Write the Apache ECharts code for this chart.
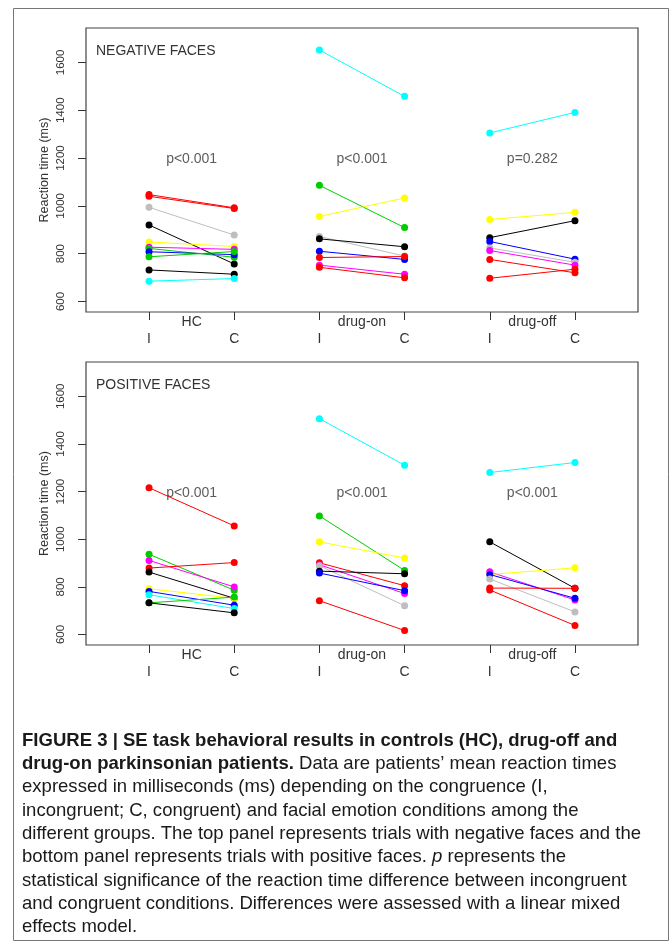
<!DOCTYPE html>
<html>
<head>
<meta charset="utf-8">
<script src="https://cdn.jsdelivr.net/npm/echarts@6/dist/echarts.min.js"></script>
<style>
  html, body { margin: 0; padding: 0; background: #fff; }
  #chart { width: 670px; height: 947px; }
</style>
</head>
<body>
<div id="chart"></div>
<script>
// groups on the x axis, each with an incongruent (I) and congruent (C) point
var groups = ['HC', 'drug-on', 'drug-off'];
var conditions = ['I', 'C'];
var yTicks = [600, 800, 1000, 1200, 1400, 1600];
var pNeg = ['p<0.001', 'p<0.001', 'p=0.282'];
var pPos = ['p<0.001', 'p<0.001', 'p<0.001'];

// NEGATIVE FACES : [I, C] reaction time per subject
var negHC = [[1047, 992], [1040, 989], [994, 878], [920, 757], [849, 830], [827, 818],
             [822, 785], [808, 796], [787, 809], [732, 714], [685, 696]];
var negHCCol = ['red', 'red', 'gray', 'black', 'yellow', 'magenta', 'green', 'blue', 'green', 'black', 'cyan'];
var negOn = [[1652, 1458], [1086, 909], [956, 1033], [872, 790], [862, 829], [810, 776],
             [784, 788], [752, 714], [743, 699]];
var negOnCol = ['cyan', 'green', 'yellow', 'gray', 'black', 'blue', 'red', 'magenta', 'red'];
var negOff = [[1305, 1391], [943, 973], [867, 938], [851, 777], [824, 764], [813, 752],
              [776, 720], [697, 735]];
var negOffCol = ['cyan', 'yellow', 'black', 'blue', 'gray', 'magenta', 'red', 'red'];

// POSITIVE FACES
var posHC = [[1216, 1056], [937, 786], [911, 800], [879, 902], [862, 752], [792, 752],
             [781, 723], [767, 709], [733, 757], [733, 691]];
var posHCCol = ['red', 'green', 'magenta', 'red', 'black', 'yellow', 'blue', 'cyan', 'green', 'black'];
var posOn = [[1506, 1311], [1098, 869], [989, 921], [901, 805], [893, 772], [889, 721],
             [866, 855], [858, 784], [742, 617]];
var posOnCol = ['cyan', 'green', 'yellow', 'red', 'magenta', 'gray', 'black', 'blue', 'red'];
var posOff = [[1280, 1322], [989, 794], [863, 745], [852, 880], [852, 752], [833, 695],
              [795, 794], [787, 638]];
var posOffCol = ['cyan', 'black', 'magenta', 'yellow', 'blue', 'gray', 'red', 'red'];

// R default palette
var pal = {
  black: '#000000', red: '#FF0000', green: '#00CD00', blue: '#0000FF',
  cyan: '#00FFFF', magenta: '#FF00FF', yellow: '#FFFF00', gray: '#BEBEBE'
};

var FONT = "'Liberation Sans', Arial, sans-serif";
var CAP_FONT = "'Liberation Sans Narrow', 'Arial Narrow', 'Liberation Sans', sans-serif";
var TXT = '#333';

var xPos = [];
groups.forEach(function (g, i) { xPos.push(i * 2 + 1, i * 2 + 2); });
var xMid = groups.map(function (g, i) { return i * 2 + 1.5; });

function xAxes(gi) {
  return [{
    type: 'value', gridIndex: gi, min: 0.26, max: 6.74, position: 'bottom',
    axisLine: { show: false }, splitLine: { show: false },
    axisTick: { show: true, customValues: xPos, length: 8, lineStyle: { color: TXT } },
    axisLabel: {
      customValues: xPos, margin: 20, fontSize: 14, color: TXT, fontFamily: FONT,
      formatter: function (v) { return conditions[(Math.round(v) - 1) % 2]; }
    }
  }, {
    type: 'value', gridIndex: gi, min: 0.26, max: 6.74, position: 'bottom',
    axisLine: { show: false }, splitLine: { show: false }, axisTick: { show: false },
    axisLabel: {
      customValues: xMid, margin: 3, fontSize: 14, color: TXT, fontFamily: FONT,
      formatter: function (v) { return groups[Math.round((v - 1.5) / 2)]; }
    }
  }];
}

function yAxis(gi) {
  return {
    type: 'value', gridIndex: gi, min: 556, max: 1744,
    axisLine: { show: false }, splitLine: { show: false },
    axisTick: { show: true, customValues: yTicks, length: 8, lineStyle: { color: TXT } },
    axisLabel: {
      customValues: yTicks, rotate: 90, margin: 19, fontSize: 11.5, color: TXT, fontFamily: FONT,
      formatter: function (v) { return String(v); }
    },
    name: 'Reaction time (ms)', nameLocation: 'middle', nameRotate: 90, nameGap: 35,
    nameMoveOverlap: false,
    nameTextStyle: { fontSize: 12.5, color: TXT, fontFamily: FONT }
  };
}

function panelSeries(pi, sets, pLabels) {
  var out = [];
  sets.forEach(function (set, gi) {
    set[0].forEach(function (pair, si) {
      var c = pal[set[1][si]];
      out.push({
        type: 'line', xAxisIndex: pi * 2, yAxisIndex: pi,
        data: [[xPos[gi * 2], pair[0]], [xPos[gi * 2 + 1], pair[1]]],
        symbol: 'circle', symbolSize: 7,
        lineStyle: { width: 1, color: c }, itemStyle: { color: c },
        emphasis: { disabled: true }, silent: true
      });
    });
  });
  out.push({
    type: 'scatter', xAxisIndex: pi * 2, yAxisIndex: pi,
    data: xMid.map(function (x) { return [x, 1195]; }),
    symbolSize: 1, itemStyle: { color: 'rgba(0,0,0,0)' }, silent: true,
    label: {
      show: true, position: 'inside', fontSize: 14, color: TXT, fontFamily: FONT,
      formatter: function (p) { return pLabels[p.dataIndex]; }
    }
  });
  return out;
}

// figure caption
var capLines = [
  [['b', 'FIGURE 3 | SE task behavioral results in controls (HC), drug-off and']],
  [['b', 'drug-on parkinsonian patients.'], ['r', ' Data are patients\u2019 mean reaction times']],
  [['r', 'expressed in milliseconds (ms) depending on the congruence (I,']],
  [['r', 'incongruent; C, congruent) and facial emotion conditions among the']],
  [['r', 'different groups. The top panel represents trials with negative faces and the']],
  [['r', 'bottom panel represents trials with positive faces. '], ['i', 'p'], ['r', ' represents the']],
  [['r', 'statistical significance of the reaction time difference between incongruent']],
  [['r', 'and congruent conditions. Differences were assessed with a linear mixed']],
  [['r', 'effects model.']]
];
var CAP_SIZE = 19;
var capStyles = {
  b: { fontWeight: 'bold', fontStyle: 'normal' },
  r: { fontWeight: 'normal', fontStyle: 'normal' },
  i: { fontWeight: 'normal', fontStyle: 'italic' }
};
var ctx = document.createElement('canvas').getContext('2d');
var maxW = 0;
capLines.forEach(function (line) {
  var w = 0;
  line.forEach(function (seg) {
    var s = capStyles[seg[0]];
    ctx.font = s.fontStyle + ' ' + s.fontWeight + ' ' + CAP_SIZE + 'px ' + CAP_FONT;
    w += ctx.measureText(seg[1]).width;
  });
  maxW = Math.max(maxW, w);
});
var capScale = 619 / maxW;
var rich = {};
Object.keys(capStyles).forEach(function (k) {
  rich[k] = {
    fontWeight: capStyles[k].fontWeight, fontStyle: capStyles[k].fontStyle,
    fontSize: CAP_SIZE, fontFamily: CAP_FONT, lineHeight: 23.3, fill: '#1a1a1a'
  };
});
var capText = capLines.map(function (line) {
  return line.map(function (seg) { return '{' + seg[0] + '|' + seg[1] + '}'; }).join('');
}).join('\n');

var chart = echarts.init(document.getElementById('chart'), null, { renderer: 'canvas' });
var option = {
  animation: false,
  backgroundColor: '#fff',
  title: [
    { text: 'NEGATIVE FACES', left: 96, top: 44, padding: 0,
      textStyle: { fontSize: 14, fontWeight: 'normal', color: TXT, fontFamily: FONT } },
    { text: 'POSITIVE FACES', left: 96, top: 378, padding: 0,
      textStyle: { fontSize: 14, fontWeight: 'normal', color: TXT, fontFamily: FONT } }
  ],
  grid: [
    { left: 86, top: 28, width: 552, height: 284, show: true, borderColor: '#444', borderWidth: 1.2 },
    { left: 86, top: 362, width: 552, height: 283, show: true, borderColor: '#444', borderWidth: 1.2 }
  ],
  xAxis: xAxes(0).concat(xAxes(1)),
  yAxis: [yAxis(0), yAxis(1)],
  series: panelSeries(0, [[negHC, negHCCol], [negOn, negOnCol], [negOff, negOffCol]], pNeg)
    .concat(panelSeries(1, [[posHC, posHCCol], [posOn, posOnCol], [posOff, posOffCol]], pPos)),
  graphic: [
    { type: 'rect', silent: true, shape: { x: 13.5, y: 8.5, width: 655, height: 932 },
      style: { fill: 'none', stroke: '#777', lineWidth: 1 } },
    { type: 'text', silent: true, x: 22, y: 729, scaleX: capScale, originX: 0,
      style: { text: capText, rich: rich, fontSize: CAP_SIZE, fontFamily: CAP_FONT, fill: '#1a1a1a' } }
  ]
};
chart.setOption(option);
</script>
</body>
</html>
